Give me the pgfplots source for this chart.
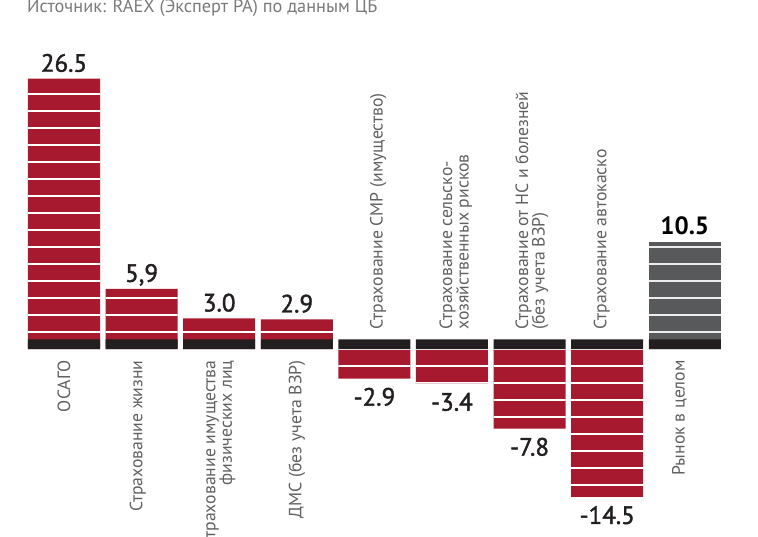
\documentclass[border=0pt]{standalone}
\usepackage{pgfplots}
\pgfplotsset{compat=1.18}
\usepackage{fontspec}
\setmainfont{PT Sans}
\newfontface\valface{PT Sans}[FakeBold=1.6]
\usetikzlibrary{patterns.meta}
\definecolor{barred}{HTML}{A6192E}
\definecolor{bargrey}{HTML}{58595B}
\definecolor{band}{HTML}{231F20}
\definecolor{labgrey}{HTML}{5F6062}
\definecolor{srcgrey}{HTML}{7A7A7A}
\tikzdeclarepattern{name=hstripes, type=uncolored,
  bounding box={(0pt,-1pt) and (2pt,16pt)}, tile size={(2pt,17pt)},
  code={\draw[line width=1.8pt] (-1pt,0pt) -- (3pt,0pt);}}
\newcommand{\labfont}{\fontsize{17.7}{16.5}\selectfont}
\newcommand{\srcfont}{\fontsize{18.3}{20}\selectfont}
\newcommand{\valfont}{\fontsize{25}{28}\selectfont\valface}
\begin{document}
\begin{tikzpicture}
\useasboundingbox (0,0) rectangle (758pt,536pt);
\node[anchor=base west, inner sep=0pt, text=srcgrey, font=\srcfont] at (27pt,523pt) {Источник: RAEX (Эксперт РА) по данным ЦБ};
\begin{axis}[at={(25.2pt,0pt)}, anchor=south west, scale only axis,
  width=698.4pt, height=536pt, xmin=-0.5, xmax=8.5, ymin=-18.33, ymax=34.22,
  axis lines=none, clip=false, ybar, bar width=72pt]
\addplot[ybar, bar shift=0pt, fill=barred, draw=none,
  postaction={pattern=hstripes, pattern color=white},
  nodes near coords, point meta=explicit symbolic,
  nodes near coords style={anchor=base, yshift=7pt, inner sep=0pt, font=\valfont, text=band}]
  table[meta=lab] {
x y lab
0 26.5 26.5
1 5.9 5,9
2 3.0 3.0
3 2.9 2.9
};
\addplot[ybar, bar shift=0pt, fill=barred, draw=none,
  postaction={pattern=hstripes, pattern color=white},
  nodes near coords, point meta=explicit symbolic,
  nodes near coords style={anchor=north, yshift=-9pt, inner sep=0pt, font=\valfont, text=band}]
  table[meta=lab] {
x y lab
4 -2.9 -2.9
5 -3.4 -3.4
6 -7.8 -7.8
7 -14.5 -14.5
};
\addplot[ybar, bar shift=0pt, fill=bargrey, draw=none,
  postaction={pattern=hstripes, pattern color=white!85!gray},
  nodes near coords, point meta=explicit symbolic,
  nodes near coords style={anchor=base, yshift=7pt, inner sep=0pt, font=\fontsize{25}{28}\selectfont\bfseries, text=black}]
  table[meta=lab] {
x y lab
8 10.5 10.5
};
\addplot[ybar, bar shift=0pt, fill=band, draw=none] coordinates {
(0,0.95) (1,0.95) (2,0.95) (3,0.95) (4,0.95) (5,0.95) (6,0.95) (7,0.95) (8,0.95)};
\begin{scope}[every node/.style={rotate=90, font=\labfont, text=labgrey, inner sep=0pt}]
\node[anchor=east] at (axis cs:0,-1.1) {ОСАГО};
\node[anchor=east] at (axis cs:0.95,-1.1) {Страхование жизни};
\node[anchor=east, align=right] at (axis cs:2,-1.1) {Страхование имущества\\физических лиц};
\node[anchor=east] at (axis cs:3,-1.1) {ДМС (без учета ВЗР)};
\node[anchor=west] at (axis cs:4.05,1.9) {Страхование СМР (имущество)};
\node[anchor=west, align=left] at (axis cs:5.05,1.9) {Страхование сельско-\\хозяйственных рисков};
\node[anchor=west, align=left] at (axis cs:6.03,1.9) {Страхование от НС и болезней\\(без учета ВЗР)};
\node[anchor=west] at (axis cs:6.93,1.9) {Страхование автокаско};
\node[anchor=east] at (axis cs:7.93,-1.1) {Рынок в целом};
\end{scope}
\end{axis}
\end{tikzpicture}
\end{document}
